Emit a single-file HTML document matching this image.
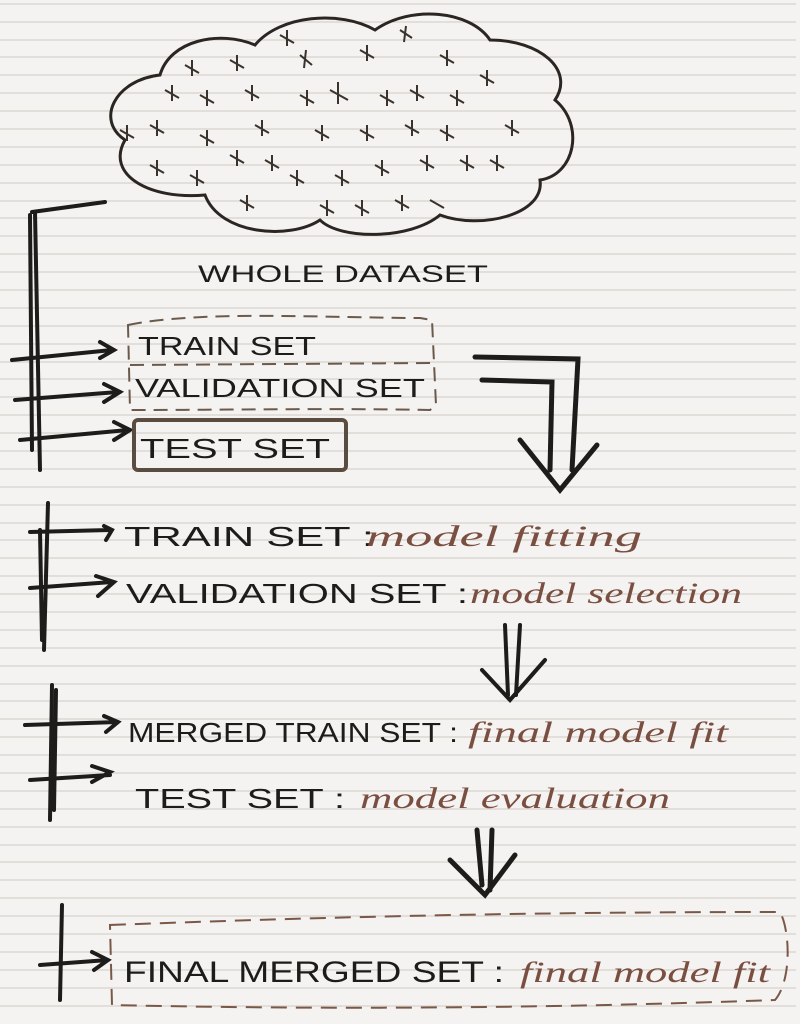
<!DOCTYPE html>
<html><head><style>
html,body{margin:0;padding:0;background:#f4f3f1;}
svg{display:block}
.c{font-family:"Liberation Sans",sans-serif;fill:#1e1c1a;font-weight:normal}
.i{font-family:"Liberation Serif",serif;font-style:italic;fill:#7a4e40}
</style></head><body>
<svg width="800" height="1024" viewBox="0 0 800 1024" xmlns="http://www.w3.org/2000/svg">
<rect width="800" height="1024" fill="#f4f3f1"/>
<g stroke="#d6d1cc" stroke-width="1.2">
<script></script>
</g>
<g id="lines" stroke="#d6d1cc" stroke-width="1.2"></g>
<g stroke="#d6d1cc" stroke-width="1.2">
<line x1="0" y1="4" x2="796" y2="4"/><line x1="0" y1="22" x2="796" y2="22"/><line x1="0" y1="40" x2="796" y2="40"/><line x1="0" y1="57" x2="796" y2="57"/><line x1="0" y1="75" x2="796" y2="75"/><line x1="0" y1="93" x2="796" y2="93"/><line x1="0" y1="111" x2="796" y2="111"/><line x1="0" y1="129" x2="796" y2="129"/><line x1="0" y1="147" x2="796" y2="147"/><line x1="0" y1="165" x2="796" y2="165"/><line x1="0" y1="183" x2="796" y2="183"/><line x1="0" y1="201" x2="796" y2="201"/><line x1="0" y1="218" x2="796" y2="218"/><line x1="0" y1="236" x2="796" y2="236"/><line x1="0" y1="254" x2="796" y2="254"/><line x1="0" y1="272" x2="796" y2="272"/><line x1="0" y1="290" x2="796" y2="290"/><line x1="0" y1="308" x2="796" y2="308"/><line x1="0" y1="326" x2="796" y2="326"/><line x1="0" y1="344" x2="796" y2="344"/><line x1="0" y1="362" x2="796" y2="362"/><line x1="0" y1="379" x2="796" y2="379"/><line x1="0" y1="397" x2="796" y2="397"/><line x1="0" y1="415" x2="796" y2="415"/><line x1="0" y1="433" x2="796" y2="433"/><line x1="0" y1="451" x2="796" y2="451"/><line x1="0" y1="469" x2="796" y2="469"/><line x1="0" y1="487" x2="796" y2="487"/><line x1="0" y1="505" x2="796" y2="505"/><line x1="0" y1="523" x2="796" y2="523"/><line x1="0" y1="540" x2="796" y2="540"/><line x1="0" y1="558" x2="796" y2="558"/><line x1="0" y1="576" x2="796" y2="576"/><line x1="0" y1="594" x2="796" y2="594"/><line x1="0" y1="612" x2="796" y2="612"/><line x1="0" y1="630" x2="796" y2="630"/><line x1="0" y1="648" x2="796" y2="648"/><line x1="0" y1="666" x2="796" y2="666"/><line x1="0" y1="684" x2="796" y2="684"/><line x1="0" y1="701" x2="796" y2="701"/><line x1="0" y1="719" x2="796" y2="719"/><line x1="0" y1="737" x2="796" y2="737"/><line x1="0" y1="755" x2="796" y2="755"/><line x1="0" y1="773" x2="796" y2="773"/><line x1="0" y1="791" x2="796" y2="791"/><line x1="0" y1="809" x2="796" y2="809"/><line x1="0" y1="827" x2="796" y2="827"/><line x1="0" y1="845" x2="796" y2="845"/><line x1="0" y1="862" x2="796" y2="862"/><line x1="0" y1="880" x2="796" y2="880"/><line x1="0" y1="898" x2="796" y2="898"/><line x1="0" y1="916" x2="796" y2="916"/><line x1="0" y1="934" x2="796" y2="934"/><line x1="0" y1="952" x2="796" y2="952"/><line x1="0" y1="970" x2="796" y2="970"/><line x1="0" y1="988" x2="796" y2="988"/><line x1="0" y1="1006" x2="796" y2="1006"/>
</g>

<!-- cloud -->
<path d="M205,195 C150,200 105,175 125,140 C95,120 115,80 160,75 C170,40 220,30 255,45 C280,15 340,10 375,30 C410,5 470,10 490,40 C540,40 575,70 555,100 C585,125 575,175 540,180 C545,215 480,230 440,215 C410,240 340,240 320,220 C290,240 220,235 205,195 Z" fill="none" stroke="#2b2622" stroke-width="3"/>
<g stroke="#3a322c" stroke-width="2" fill="none">
<path d="M280,35 l14,8 M287,30 l0,16 M400,30 l12,8 M406,26 l-2,16 M185,65 l14,8 M192,60 l0,16 M230,60 l14,8 M237,55 l0,16 M300,55 l12,10 M306,50 l-2,18 M360,50 l14,8 M367,45 l0,16 M440,55 l14,8 M447,50 l0,16 M480,75 l14,8 M487,70 l0,16"/>
<path d="M165,90 l14,8 M172,85 l0,16 M200,95 l14,8 M207,90 l0,16 M245,90 l14,8 M252,85 l0,16 M300,95 l14,8 M307,90 l0,16 M330,90 l18,10 M338,82 l0,22 M380,95 l14,8 M387,90 l0,16 M410,90 l14,8 M417,85 l0,16 M450,95 l14,8 M457,90 l0,16"/>
<path d="M120,130 l14,8 M127,125 l0,16 M150,125 l14,8 M157,120 l0,16 M200,135 l14,8 M207,130 l0,16 M255,125 l14,8 M262,120 l0,16 M315,130 l14,8 M322,125 l0,16 M360,130 l14,8 M367,125 l0,16 M405,125 l14,8 M412,120 l0,16 M440,130 l14,8 M447,125 l0,16 M505,125 l14,8 M512,120 l0,16"/>
<path d="M150,165 l14,8 M157,160 l0,16 M190,175 l14,8 M197,170 l0,16 M230,155 l14,8 M237,150 l0,16 M265,160 l14,8 M272,155 l0,16 M290,175 l14,8 M297,170 l0,16 M335,175 l14,8 M342,170 l0,16 M375,165 l14,8 M382,160 l0,16 M420,160 l14,8 M427,155 l0,16 M460,160 l14,8 M467,155 l0,16 M490,160 l14,8 M497,155 l0,16"/>
<path d="M240,200 l14,8 M247,195 l0,16 M320,205 l14,8 M327,200 l0,16 M355,205 l14,8 M362,200 l0,16 M395,200 l14,8 M402,195 l0,16 M430,200 l14,8"/>
</g>
<text x="198" y="282" class="c" font-size="24" textLength="290" lengthAdjust="spacingAndGlyphs">WHOLE  DATASET</text>

<!-- first bracket -->
<g stroke="#1e1c1a" stroke-width="4" fill="none" stroke-linecap="round">
<path d="M32,212 L105,202 M35,212 L40,470 M30,215 L32,450"/>
<path d="M12,360 L112,350 M100,342 L114,350 L100,358"/>
<path d="M15,400 L118,392 M104,384 L120,392 L104,402"/>
<path d="M20,440 L128,430 M114,422 L130,430 L114,440"/>
</g>
<path d="M128,325 C200,310 330,318 420,318 L432,320 L436,405 L430,410 C330,408 230,410 130,410 Z" fill="none" stroke="#6b5a4c" stroke-width="2" stroke-dasharray="14,8"/>
<path d="M130,365 L432,363" stroke="#6b5a4c" stroke-width="2" stroke-dasharray="14,8"/>
<rect x="134" y="420" width="212" height="50" rx="4" fill="none" stroke="#5b4c40" stroke-width="4"/>
<text x="138" y="355" class="c" font-size="26" textLength="178" lengthAdjust="spacingAndGlyphs">TRAIN SET</text>
<text x="135" y="397" class="c" font-size="26" textLength="290" lengthAdjust="spacingAndGlyphs">VALIDATION  SET</text>
<text x="140" y="458" class="c" font-size="28" textLength="190" lengthAdjust="spacingAndGlyphs">TEST   SET</text>

<!-- bent arrow -->
<g stroke="#1e1c1a" stroke-width="5" fill="none" stroke-linecap="round">
<path d="M475,357 L578,359 L572,470 M482,380 L552,382 L550,470 M520,440 L560,490 L597,445"/>
</g>

<!-- second block -->
<g stroke="#1e1c1a" stroke-width="4" fill="none" stroke-linecap="round">
<path d="M48,503 L44,650 M40,530 L42,640"/>
<path d="M30,532 L110,530 M104,526 L112,530 L106,540"/>
<path d="M30,588 L112,582 M96,576 L114,582 L98,596"/>
</g>
<text x="124" y="546" class="c" font-size="28" textLength="250" lengthAdjust="spacingAndGlyphs">TRAIN SET :</text>
<text x="366" y="546" class="i" font-size="30" textLength="276" lengthAdjust="spacingAndGlyphs">model fitting</text>
<text x="126" y="603" class="c" font-size="28" textLength="342" lengthAdjust="spacingAndGlyphs">VALIDATION  SET :</text>
<text x="470" y="603" class="i" font-size="30" textLength="272" lengthAdjust="spacingAndGlyphs">model selection</text>

<g stroke="#1e1c1a" stroke-width="4" fill="none" stroke-linecap="round">
<path d="M505,625 L508,695 M520,625 L516,695 M482,670 L510,700 L545,660"/>
</g>

<!-- third block -->
<g stroke="#1e1c1a" stroke-width="4" fill="none" stroke-linecap="round">
<path d="M52,685 L50,820 M56,690 L54,810"/>
<path d="M25,725 L118,722 M104,716 L118,722 L106,732"/>
<path d="M30,780 L110,775 M92,766 L110,772 L92,782"/>
</g>
<text x="128" y="742" class="c" font-size="28" textLength="330" lengthAdjust="spacingAndGlyphs">MERGED TRAIN SET :</text>
<text x="468" y="742" class="i" font-size="30" textLength="260" lengthAdjust="spacingAndGlyphs">final model fit</text>
<text x="135" y="808" class="c" font-size="28" textLength="210" lengthAdjust="spacingAndGlyphs">TEST SET :</text>
<text x="360" y="808" class="i" font-size="30" textLength="310" lengthAdjust="spacingAndGlyphs">model evaluation</text>

<g stroke="#1e1c1a" stroke-width="5" fill="none" stroke-linecap="round">
<path d="M477,830 L482,885 M492,830 L490,890 M450,860 L485,895 L515,855"/>
</g>

<!-- final -->
<g stroke="#1e1c1a" stroke-width="4" fill="none" stroke-linecap="round">
<path d="M62,905 L60,1000 M40,965 L108,960 M92,952 L108,960 L94,970"/>
</g>
<path d="M110,925 C300,918 500,912 780,912 C790,930 792,980 775,1000 C560,1008 330,1010 112,1005 Z" fill="none" stroke="#7a5848" stroke-width="2" stroke-dasharray="16,9"/>
<text x="124" y="982" class="c" font-size="30" textLength="380" lengthAdjust="spacingAndGlyphs">FINAL MERGED SET :</text>
<text x="520" y="982" class="i" font-size="30" textLength="250" lengthAdjust="spacingAndGlyphs">final model fit</text>
</svg>
</body></html>
